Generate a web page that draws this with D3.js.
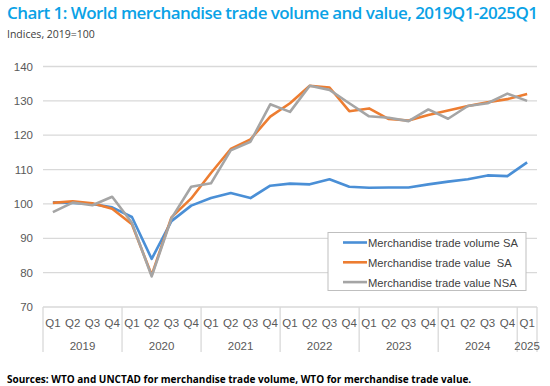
<html>
<head>
<script src="https://d3js.org/d3.v7.min.js"></script>
<style>
  body { margin: 0; background: #fff; }
  text { font-family: "Liberation Sans", Arial, sans-serif; }
</style>
</head>
<body>
<svg width="550" height="386"></svg>
<script>
var years = ["2019", "2020", "2021", "2022", "2023", "2024", "2025"];
var quarters = ["Q1", "Q2", "Q3", "Q4"];
var periods = [];
years.forEach(function(y) {
  quarters.forEach(function(q) {
    if (y !== "2025" || q === "Q1") periods.push(y + q);
  });
});

var volumeSA = [100.5, 100.3, 100.0, 99.0, 96.2, 84.0, 95.0, 99.5,
                101.7, 103.2, 101.7, 105.3, 105.9, 105.7, 107.2, 105.0,
                104.7, 104.8, 104.8, 105.7, 106.5, 107.2, 108.3, 108.1, 112.1];
var valueSA  = [100.3, 100.8, 100.2, 98.6, 94.1, 79.3, 96.1, 101.6,
                109.0, 116.0, 118.8, 125.4, 129.3, 134.4, 133.9, 127.0,
                127.8, 124.7, 124.3, 125.9, 127.2, 128.5, 129.6, 130.5, 132.0];
var valueNSA = [97.6, 100.4, 99.6, 102.1, 94.5, 78.9, 95.8, 105.0,
                106.0, 115.6, 118.1, 129.0, 126.8, 134.4, 133.2, 129.3,
                125.5, 125.1, 124.1, 127.5, 124.8, 128.5, 129.3, 132.1, 130.0];
var yTicks = [70, 80, 90, 100, 110, 120, 130, 140];

var series = [
  {name: "Merchandise trade volume SA", values: volumeSA, color: "#4a8fd6"},
  {name: "Merchandise trade value  SA", values: valueSA, color: "#ed7d31"},
  {name: "Merchandise trade value NSA", values: valueNSA, color: "#a5a5a5"}
];

var svg = d3.select("svg");
var plotLeft = 43, plotRight = 537, plotTop = 66.5, plotBottom = 307;

var x = d3.scaleBand().domain(periods).range([plotLeft, plotRight]);
var y = d3.scaleLinear().domain([70, 140]).range([plotBottom, plotTop]);

// title
svg.append("text")
  .attr("x", 7).attr("y", 19)
  .attr("fill", "#0aa2e6")
  .attr("font-size", 17)
  .attr("font-weight", 600)
  .style("font-family", "'Open Sans', sans-serif")
  .attr("textLength", 531)
  .text("Chart 1: World merchandise trade volume and value, 2019Q1-2025Q1");

svg.append("text")
  .attr("x", 7).attr("y", 38)
  .attr("fill", "#404040")
  .attr("font-size", 10.5)
  .style("font-family", "'Open Sans', sans-serif")
  .text("Indices, 2019=100");

// grid
svg.append("g").selectAll("line").data(yTicks).enter().append("line")
  .attr("x1", plotLeft).attr("x2", plotRight)
  .attr("y1", d => y(d)).attr("y2", d => y(d))
  .attr("stroke", "#d9d9d9").attr("stroke-width", 1.3);

svg.append("g").selectAll("text").data(yTicks).enter().append("text")
  .attr("x", 33).attr("y", d => y(d) + 4)
  .attr("text-anchor", "end")
  .attr("font-size", 11.5)
  .attr("fill", "#595959")
  .text(d => d);

// category axis
var bounds = [];
years.forEach(function(yr) {
  var ps = periods.filter(p => p.slice(0, 4) === yr);
  bounds.push({year: yr, x0: x(ps[0]), x1: x(ps[ps.length - 1]) + x.bandwidth()});
});
var sepX = [plotLeft].concat(bounds.map(b => b.x1));
svg.append("g").selectAll("line").data(sepX).enter().append("line")
  .attr("x1", d => d).attr("x2", d => d)
  .attr("y1", plotBottom).attr("y2", 352)
  .attr("stroke", "#d9d9d9").attr("stroke-width", 1.3);

svg.append("g").selectAll("text").data(periods).enter().append("text")
  .attr("x", d => x(d) + x.bandwidth() / 2).attr("y", 327)
  .attr("text-anchor", "middle")
  .attr("font-size", 11.5)
  .attr("fill", "#595959")
  .text(d => d.slice(4));

svg.append("g").selectAll("text").data(bounds).enter().append("text")
  .attr("x", d => (d.x0 + d.x1) / 2).attr("y", 350)
  .attr("text-anchor", "middle")
  .attr("font-size", 11.5)
  .attr("fill", "#595959")
  .text(d => d.year);

// lines
var line = d3.line()
  .x((d, i) => x(periods[i]) + x.bandwidth() / 2)
  .y(d => y(d));

svg.append("g").selectAll("path").data(series).enter().append("path")
  .attr("d", d => line(d.values))
  .attr("fill", "none")
  .attr("stroke", d => d.color)
  .attr("stroke-width", 2.6)
  .attr("stroke-linejoin", "round");

// legend
var lg = svg.append("g");
lg.append("rect")
  .attr("x", 328).attr("y", 232.5)
  .attr("width", 198).attr("height", 58)
  .attr("fill", "#fff").attr("stroke", "#bfbfbf");
var items = lg.selectAll("g").data(series).enter().append("g")
  .attr("transform", (d, i) => "translate(0," + (242.5 + i * 19.8) + ")");
items.append("line")
  .attr("x1", 343).attr("x2", 367)
  .attr("stroke", d => d.color).attr("stroke-width", 2.6);
items.append("text")
  .attr("x", 368).attr("y", 4.5)
  .attr("font-size", 11.2)
  .attr("fill", "#404040")
  .style("white-space", "pre")
  .text(d => d.name);

// source
svg.append("text")
  .attr("x", 7).attr("y", 383)
  .attr("font-size", 10)
  .attr("font-weight", "bold")
  .attr("fill", "#000")
  .style("font-family", "'Open Sans', sans-serif")
  .text("Sources: WTO and UNCTAD for merchandise trade volume, WTO for merchandise trade value.");
</script>
</body>
</html>
